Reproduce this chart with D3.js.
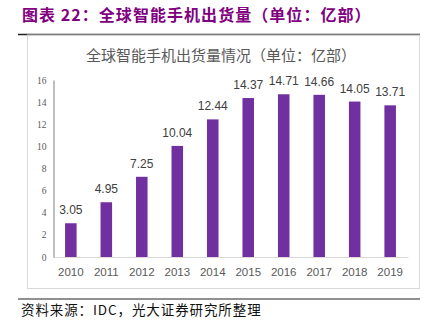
<!DOCTYPE html>
<html><head><meta charset="utf-8">
<script src="https://cdn.jsdelivr.net/npm/d3@7/dist/d3.min.js"></script>
<style>
body{margin:0;background:#fff;}
svg{display:block;}
</style></head>
<body>
<svg id="c" width="436" height="333"></svg>
<script>
const categories = ["2010","2011","2012","2013","2014","2015","2016","2017","2018","2019"];
const values = [3.05, 4.95, 7.25, 10.04, 12.44, 14.37, 14.71, 14.66, 14.05, 13.71];
const yTicks = [0, 2, 4, 6, 8, 10, 12, 14, 16];
const titleText = "图表 22：全球智能手机出货量（单位：亿部）";
const chartTitle = "全球智能手机出货量情况（单位：亿部）";
const sourceText = "资料来源：IDC，光大证券研究所整理";

const svg = d3.select("#c");
const cjk = "'Noto Sans CJK SC', 'Noto Sans', sans-serif";

// header title
svg.append("text").attr("x", 22).attr("y", 21)
  .attr("font-family", cjk).attr("font-weight", "bold")
  .attr("font-size", 16).attr("letter-spacing", 1.05).attr("fill", "#800080")
  .text(titleText);

// top rule
svg.append("line").attr("x1", 18).attr("x2", 420).attr("y1", 34.5).attr("y2", 34.5)
  .attr("stroke", "#222").attr("stroke-width", 1.5);
// chart box
svg.append("rect").attr("x", 27.5).attr("y", 35).attr("width", 392).attr("height", 253.5)
  .attr("fill", "none").attr("stroke", "#d9d9d9").attr("stroke-width", 1);
// bottom rule
svg.append("line").attr("x1", 18).attr("x2", 420).attr("y1", 299).attr("y2", 299)
  .attr("stroke", "#222").attr("stroke-width", 1.2);

// inner title
svg.append("text").attr("x", 221).attr("y", 61).attr("text-anchor", "middle")
  .attr("font-family", cjk).attr("font-size", 15).attr("fill", "#595959")
  .text(chartTitle);

const x = d3.scaleBand().domain(categories).range([53, 408]).paddingInner(0.675).paddingOuter(0.34);
const y = d3.scaleLinear().domain([0, 16]).range([257, 80]);

// x axis
const xAxis = svg.append("g").attr("transform", "translate(0,257)")
  .call(d3.axisBottom(x).tickSize(0).tickPadding(11));
xAxis.select(".domain").attr("stroke", "#d9d9d9");
xAxis.selectAll("text").attr("font-family", "'Liberation Sans', Arial, sans-serif")
  .attr("font-size", 11.5).attr("fill", "#595959");

// y axis
const yAxis = svg.append("g").attr("transform", "translate(53.5,0)")
  .call(d3.axisLeft(y).tickValues(yTicks).tickSize(0).tickPadding(7));
yAxis.select(".domain").attr("stroke", "#7f7f7f");
yAxis.selectAll("text").attr("font-family", "'Liberation Serif', 'Times New Roman', serif")
  .attr("font-size", 9.5).attr("fill", "#595959");

// bars
svg.append("g").selectAll("rect").data(values).join("rect")
  .attr("x", (d, i) => x(categories[i]))
  .attr("width", x.bandwidth())
  .attr("y", d => y(d))
  .attr("height", d => y(0) - y(d))
  .attr("fill", "#7030A0");

// value labels
svg.append("g").selectAll("text").data(values).join("text")
  .attr("x", (d, i) => x(categories[i]) + x.bandwidth() / 2)
  .attr("y", d => y(d) - 9)
  .attr("text-anchor", "middle")
  .attr("font-family", "'Liberation Sans', Arial, sans-serif")
  .attr("font-size", 12).attr("fill", "#404040")
  .text(d => d.toFixed(2));

// source
svg.append("text").attr("x", 21).attr("y", 315)
  .attr("font-family", cjk).attr("font-size", 13.5).attr("letter-spacing", 0.9).attr("fill", "#111")
  .text(sourceText);
</script>
</body></html>
